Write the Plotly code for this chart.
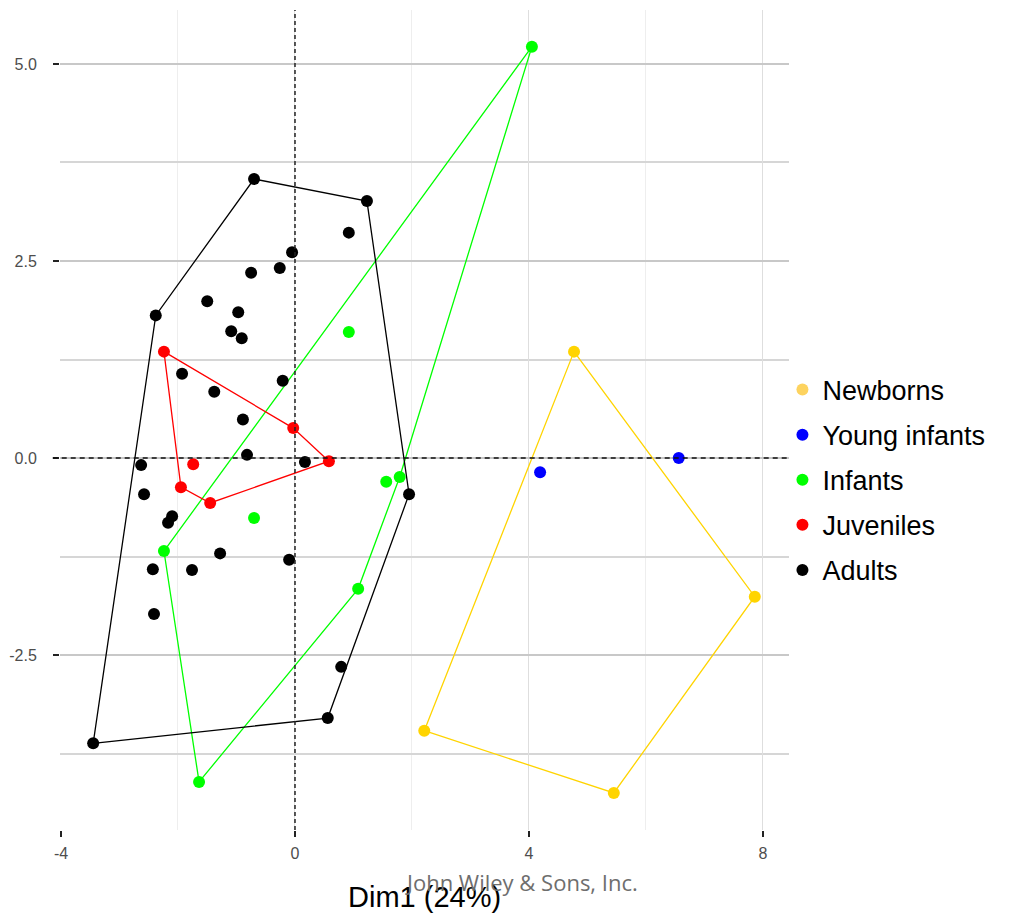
import plotly.graph_objects as go
import numpy as np

groups = ["Newborns", "Young infants", "Infants", "Juveniles", "Adults"]
colors = {"Newborns": "#FFD400", "Young infants": "#0000FF", "Infants": "#00FF00",
          "Juveniles": "#FF0000", "Adults": "#000000"}
legend_colors = {"Newborns": "#FDD35F", "Young infants": "#0000FF", "Infants": "#00FF00",
                 "Juveniles": "#FF0000", "Adults": "#000000"}

newborns_x = [4.77, 7.86, 5.45, 2.21]
newborns_y = [1.35, -1.76, -4.25, -3.46]

young_x = [4.19, 6.56]
young_y = [-0.18, 0.00]

infants_x = [4.05, 0.92, 1.79, 1.56, -0.70, -2.24, 1.08, -1.64]
infants_y = [5.22, 1.60, -0.24, -0.30, -0.76, -1.18, -1.66, -4.11]

juveniles_x = [-2.24, -0.03, 0.58, -1.74, -1.95, -1.45]
juveniles_y = [1.35, 0.38, -0.04, -0.08, -0.37, -0.57]

adults_x = [-0.70, 1.23, 0.92, -0.05, -0.26, -0.75, -1.50, -0.97, -2.38, -1.09,
            -0.91, -1.93, -0.21, -1.38, -0.89, -0.82, 0.17, -2.63, -2.58, 1.95,
            -2.10, -2.17, -1.28, -0.10, -2.43, -1.76, -2.41, 0.79, 0.56, -3.45]
adults_y = [3.54, 3.26, 2.86, 2.61, 2.41, 2.35, 1.99, 1.85, 1.81, 1.61,
            1.52, 1.07, 0.98, 0.84, 0.49, 0.04, -0.05, -0.09, -0.46, -0.46,
            -0.74, -0.82, -1.21, -1.29, -1.41, -1.42, -1.98, -2.65, -3.30, -3.62]

data = {
    "Newborns": (newborns_x, newborns_y),
    "Young infants": (young_x, young_y),
    "Infants": (infants_x, infants_y),
    "Juveniles": (juveniles_x, juveniles_y),
    "Adults": (adults_x, adults_y),
}

x_ticks = [-4, 0, 4, 8]
y_ticks = [-2.5, 0.0, 2.5, 5.0]
y_tick_text = ["-2.5", "0.0", "2.5", "5.0"]


def convex_hull(xs, ys):
    pts = sorted(set(zip(xs, ys)))
    if len(pts) < 3:
        return []

    def cross(o, a, b):
        return (a[0] - o[0]) * (b[1] - o[1]) - (a[1] - o[1]) * (b[0] - o[0])

    lower, upper = [], []
    for p in pts:
        while len(lower) >= 2 and cross(lower[-2], lower[-1], p) <= 0:
            lower.pop()
        lower.append(p)
    for p in reversed(pts):
        while len(upper) >= 2 and cross(upper[-2], upper[-1], p) <= 0:
            upper.pop()
        upper.append(p)
    hull = lower[:-1] + upper[:-1]
    return hull + [hull[0]]


fig = go.Figure()

# hull lines
for g in groups:
    xs, ys = data[g]
    hull = convex_hull(xs, ys)
    if hull:
        fig.add_trace(go.Scatter(x=[p[0] for p in hull], y=[p[1] for p in hull],
                                 mode="lines", line=dict(color=colors[g], width=1.3),
                                 showlegend=False, hoverinfo="skip"))

# points
for g in reversed(groups):
    xs, ys = data[g]
    fig.add_trace(go.Scatter(x=xs, y=ys, mode="markers",
                             marker=dict(color=colors[g], size=12, line=dict(width=0)),
                             name=g, showlegend=False))

# legend entries
for g in groups:
    fig.add_trace(go.Scatter(x=[None], y=[None], mode="markers",
                             marker=dict(color=legend_colors[g], size=12),
                             name=g, legendgroup=g, showlegend=True))

fig.add_shape(type="line", xref="x", yref="paper", x0=0, x1=0, y0=0, y1=1,
              line=dict(color="#222222", width=1.5, dash="4px,3px"), layer="above")
fig.add_shape(type="line", xref="paper", yref="y", x0=-0.01, x1=1, y0=0, y1=0,
              line=dict(color="#111111", width=1.3, dash="5px,4px"), layer="above")

fig.update_xaxes(range=[-4.017, 8.445], tickvals=x_ticks, ticktext=[str(v) for v in x_ticks],
                 showgrid=True, gridcolor="#dedede", gridwidth=1.3,
                 minor=dict(dtick=2, showgrid=True, gridcolor="#eeeeee", gridwidth=1.3),
                 zeroline=False, showline=False,
                 ticks="outside", ticklen=6, tickcolor="#222222", tickwidth=1.5,
                 ticklabelstandoff=3,
                 tickfont=dict(family="Liberation Sans, Arial", size=16, color="#4d4d4d"))
fig.update_yaxes(range=[-4.72, 5.685], tickvals=y_ticks, ticktext=y_tick_text,
                 showgrid=True, gridcolor="#c8c8c8", gridwidth=1.5,
                 minor=dict(tickvals=[-3.75, -1.25, 1.25, 3.75], showgrid=True,
                            gridcolor="#d6d6d6", gridwidth=1.8),
                 zeroline=False, showline=False,
                 ticks="outside", ticklen=6, tickcolor="#222222", tickwidth=1.5,
                 ticklabelstandoff=13,
                 tickfont=dict(family="Liberation Sans, Arial", size=16, color="#4d4d4d"))

fig.add_annotation(text="Dim1 (24%)", xref="paper", yref="paper", x=0.5, y=-0.082,
                   xanchor="center", yanchor="middle", showarrow=False,
                   font=dict(family="Liberation Sans, Arial", size=29, color="#000000"))
fig.add_annotation(text="John Wiley &amp; Sons, Inc.", xref="paper", yref="paper",
                   x=(521 - 60) / 729, y=-(882 - 830) / 820,
                   xanchor="center", yanchor="middle", showarrow=False,
                   font=dict(family="Open Sans, Lato", size=22, color="#6e6e6e"))

fig.update_layout(
    width=1010, height=919,
    margin=dict(l=52, r=229, t=2, b=97),
    plot_bgcolor="white", paper_bgcolor="white",
    legend=dict(x=0.991, y=(830 - 480) / 820, xanchor="left", yanchor="middle",
                traceorder="grouped", tracegroupgap=7,
                font=dict(family="Liberation Sans, Arial", size=27, color="#000000"),
                itemwidth=30, bgcolor="rgba(0,0,0,0)"),
    showlegend=True,
)

fig.write_html("out.html")
